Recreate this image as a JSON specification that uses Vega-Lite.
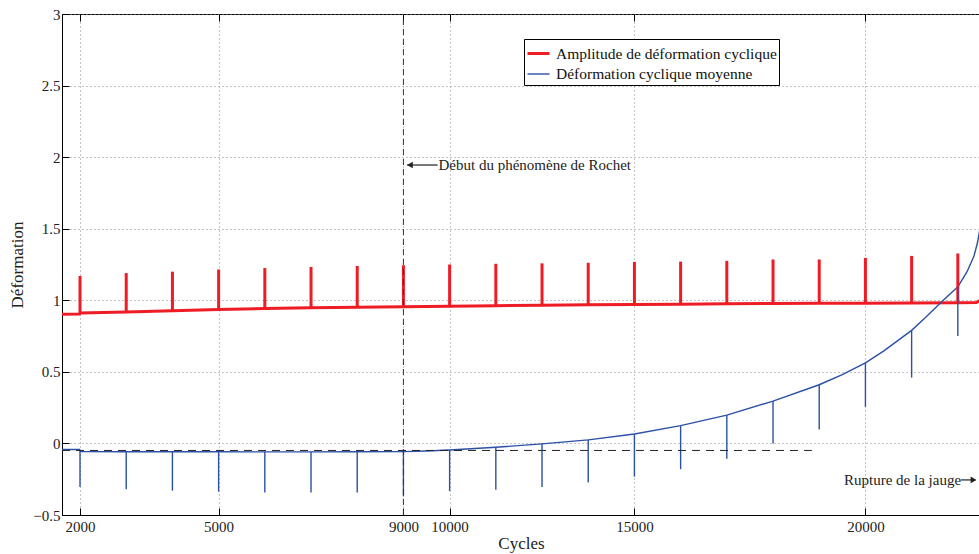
{
  "$schema": "https://vega.github.io/schema/vega-lite/v6.json",
  "width": 918,
  "height": 501,
  "autosize": {"type": "none"},
  "padding": {"left": 62, "top": 14, "right": 0, "bottom": 39},
  "background": "white",
  "config": {
    "view": {"stroke": "#000", "strokeWidth": 1},
    "font": "Liberation Serif",
    "axis": {
      "domainColor": "#000",
      "domainWidth": 1,
      "tickColor": "#000",
      "tickSize": -7,
      "labelFont": "Liberation Serif",
      "labelFontSize": 15,
      "labelColor": "#222",
      "titleFont": "Liberation Serif",
      "titleFontSize": 17,
      "titleFontWeight": "normal",
      "titleColor": "#222",
      "gridColor": "#8a8a8a",
      "gridDash": [1, 3],
      "gridOpacity": 1,
      "gridWidth": 1
    }
  },
  "resolve": {"scale": {"x": "shared"}, "axis": {"x": "independent"}},
  "datasets": {
    "curves": [
      {"series": "Amplitude de déformation cyclique", "cycle": 1610, "value": 0.903},
      {"series": "Amplitude de déformation cyclique", "cycle": 1990, "value": 0.904},
      {"series": "Amplitude de déformation cyclique", "cycle": 2010, "value": 0.912},
      {"series": "Amplitude de déformation cyclique", "cycle": 3000, "value": 0.919},
      {"series": "Amplitude de déformation cyclique", "cycle": 4000, "value": 0.927},
      {"series": "Amplitude de déformation cyclique", "cycle": 5000, "value": 0.936},
      {"series": "Amplitude de déformation cyclique", "cycle": 6000, "value": 0.942},
      {"series": "Amplitude de déformation cyclique", "cycle": 7000, "value": 0.948},
      {"series": "Amplitude de déformation cyclique", "cycle": 8000, "value": 0.952},
      {"series": "Amplitude de déformation cyclique", "cycle": 9000, "value": 0.955},
      {"series": "Amplitude de déformation cyclique", "cycle": 10000, "value": 0.958},
      {"series": "Amplitude de déformation cyclique", "cycle": 11000, "value": 0.962},
      {"series": "Amplitude de déformation cyclique", "cycle": 12000, "value": 0.965},
      {"series": "Amplitude de déformation cyclique", "cycle": 13000, "value": 0.968},
      {"series": "Amplitude de déformation cyclique", "cycle": 14000, "value": 0.970},
      {"series": "Amplitude de déformation cyclique", "cycle": 15000, "value": 0.972},
      {"series": "Amplitude de déformation cyclique", "cycle": 16000, "value": 0.975},
      {"series": "Amplitude de déformation cyclique", "cycle": 17000, "value": 0.978},
      {"series": "Amplitude de déformation cyclique", "cycle": 18000, "value": 0.979},
      {"series": "Amplitude de déformation cyclique", "cycle": 19000, "value": 0.980},
      {"series": "Amplitude de déformation cyclique", "cycle": 20000, "value": 0.981},
      {"series": "Amplitude de déformation cyclique", "cycle": 21000, "value": 0.982},
      {"series": "Amplitude de déformation cyclique", "cycle": 21400, "value": 0.984},
      {"series": "Amplitude de déformation cyclique", "cycle": 21480, "value": 1.0},
      {"series": "Déformation cyclique moyenne", "cycle": 1610, "value": -0.042},
      {"series": "Déformation cyclique moyenne", "cycle": 1990, "value": -0.042},
      {"series": "Déformation cyclique moyenne", "cycle": 2010, "value": -0.057},
      {"series": "Déformation cyclique moyenne", "cycle": 3000, "value": -0.058},
      {"series": "Déformation cyclique moyenne", "cycle": 4000, "value": -0.058},
      {"series": "Déformation cyclique moyenne", "cycle": 5000, "value": -0.058},
      {"series": "Déformation cyclique moyenne", "cycle": 6000, "value": -0.059},
      {"series": "Déformation cyclique moyenne", "cycle": 7000, "value": -0.059},
      {"series": "Déformation cyclique moyenne", "cycle": 8000, "value": -0.058},
      {"series": "Déformation cyclique moyenne", "cycle": 9000, "value": -0.057},
      {"series": "Déformation cyclique moyenne", "cycle": 9500, "value": -0.053},
      {"series": "Déformation cyclique moyenne", "cycle": 10000, "value": -0.046},
      {"series": "Déformation cyclique moyenne", "cycle": 11000, "value": -0.027},
      {"series": "Déformation cyclique moyenne", "cycle": 12000, "value": -0.003},
      {"series": "Déformation cyclique moyenne", "cycle": 13000, "value": 0.025},
      {"series": "Déformation cyclique moyenne", "cycle": 14000, "value": 0.066},
      {"series": "Déformation cyclique moyenne", "cycle": 15000, "value": 0.124},
      {"series": "Déformation cyclique moyenne", "cycle": 16000, "value": 0.198},
      {"series": "Déformation cyclique moyenne", "cycle": 17000, "value": 0.296},
      {"series": "Déformation cyclique moyenne", "cycle": 18000, "value": 0.41},
      {"series": "Déformation cyclique moyenne", "cycle": 18500, "value": 0.48},
      {"series": "Déformation cyclique moyenne", "cycle": 19000, "value": 0.563},
      {"series": "Déformation cyclique moyenne", "cycle": 19400, "value": 0.647},
      {"series": "Déformation cyclique moyenne", "cycle": 20000, "value": 0.79},
      {"series": "Déformation cyclique moyenne", "cycle": 20300, "value": 0.88},
      {"series": "Déformation cyclique moyenne", "cycle": 20650, "value": 0.99},
      {"series": "Déformation cyclique moyenne", "cycle": 21000, "value": 1.094},
      {"series": "Déformation cyclique moyenne", "cycle": 21200, "value": 1.2},
      {"series": "Déformation cyclique moyenne", "cycle": 21350, "value": 1.31},
      {"series": "Déformation cyclique moyenne", "cycle": 21424, "value": 1.40},
      {"series": "Déformation cyclique moyenne", "cycle": 21480, "value": 1.50}
    ],
    "spikes": [
      {"series": "Amplitude de déformation cyclique", "cycle": 2000, "lo": 0.905, "hi": 1.17},
      {"series": "Amplitude de déformation cyclique", "cycle": 3000, "lo": 0.919, "hi": 1.19},
      {"series": "Amplitude de déformation cyclique", "cycle": 4000, "lo": 0.927, "hi": 1.2},
      {"series": "Amplitude de déformation cyclique", "cycle": 5000, "lo": 0.936, "hi": 1.215},
      {"series": "Amplitude de déformation cyclique", "cycle": 6000, "lo": 0.942, "hi": 1.225},
      {"series": "Amplitude de déformation cyclique", "cycle": 7000, "lo": 0.948, "hi": 1.233},
      {"series": "Amplitude de déformation cyclique", "cycle": 8000, "lo": 0.952, "hi": 1.24},
      {"series": "Amplitude de déformation cyclique", "cycle": 9000, "lo": 0.955, "hi": 1.245},
      {"series": "Amplitude de déformation cyclique", "cycle": 10000, "lo": 0.958, "hi": 1.25},
      {"series": "Amplitude de déformation cyclique", "cycle": 11000, "lo": 0.962, "hi": 1.255},
      {"series": "Amplitude de déformation cyclique", "cycle": 12000, "lo": 0.965, "hi": 1.258},
      {"series": "Amplitude de déformation cyclique", "cycle": 13000, "lo": 0.968, "hi": 1.262},
      {"series": "Amplitude de déformation cyclique", "cycle": 14000, "lo": 0.97, "hi": 1.268},
      {"series": "Amplitude de déformation cyclique", "cycle": 15000, "lo": 0.972, "hi": 1.27},
      {"series": "Amplitude de déformation cyclique", "cycle": 16000, "lo": 0.975, "hi": 1.275},
      {"series": "Amplitude de déformation cyclique", "cycle": 17000, "lo": 0.978, "hi": 1.285},
      {"series": "Amplitude de déformation cyclique", "cycle": 18000, "lo": 0.979, "hi": 1.285},
      {"series": "Amplitude de déformation cyclique", "cycle": 19000, "lo": 0.98, "hi": 1.296},
      {"series": "Amplitude de déformation cyclique", "cycle": 20000, "lo": 0.981, "hi": 1.31},
      {"series": "Amplitude de déformation cyclique", "cycle": 21000, "lo": 0.982, "hi": 1.327},
      {"series": "Déformation cyclique moyenne", "cycle": 2000, "lo": -0.305, "hi": -0.05},
      {"series": "Déformation cyclique moyenne", "cycle": 3000, "lo": -0.32, "hi": -0.058},
      {"series": "Déformation cyclique moyenne", "cycle": 4000, "lo": -0.33, "hi": -0.058},
      {"series": "Déformation cyclique moyenne", "cycle": 5000, "lo": -0.336, "hi": -0.058},
      {"series": "Déformation cyclique moyenne", "cycle": 6000, "lo": -0.343, "hi": -0.059},
      {"series": "Déformation cyclique moyenne", "cycle": 7000, "lo": -0.343, "hi": -0.059},
      {"series": "Déformation cyclique moyenne", "cycle": 8000, "lo": -0.343, "hi": -0.058},
      {"series": "Déformation cyclique moyenne", "cycle": 9000, "lo": -0.37, "hi": -0.057},
      {"series": "Déformation cyclique moyenne", "cycle": 10000, "lo": -0.333, "hi": -0.046},
      {"series": "Déformation cyclique moyenne", "cycle": 11000, "lo": -0.324, "hi": -0.027},
      {"series": "Déformation cyclique moyenne", "cycle": 12000, "lo": -0.305, "hi": -0.003},
      {"series": "Déformation cyclique moyenne", "cycle": 13000, "lo": -0.273, "hi": 0.025},
      {"series": "Déformation cyclique moyenne", "cycle": 14000, "lo": -0.232, "hi": 0.066},
      {"series": "Déformation cyclique moyenne", "cycle": 15000, "lo": -0.18, "hi": 0.124},
      {"series": "Déformation cyclique moyenne", "cycle": 16000, "lo": -0.107, "hi": 0.198},
      {"series": "Déformation cyclique moyenne", "cycle": 17000, "lo": 0.0, "hi": 0.296},
      {"series": "Déformation cyclique moyenne", "cycle": 18000, "lo": 0.098, "hi": 0.41},
      {"series": "Déformation cyclique moyenne", "cycle": 19000, "lo": 0.256, "hi": 0.563},
      {"series": "Déformation cyclique moyenne", "cycle": 20000, "lo": 0.46, "hi": 0.79},
      {"series": "Déformation cyclique moyenne", "cycle": 21000, "lo": 0.75, "hi": 1.094}
    ]
  },
  "layer": [
    {
      "data": {"name": "curves"},
      "mark": {"type": "line", "clip": true},
      "encoding": {
        "x": {
          "field": "cycle", "type": "quantitative",
          "scale": {"domain": [1610, 21480], "nice": false, "zero": false},
          "axis": {
            "orient": "bottom",
            "values": [2000, 5000, 9000, 10000, 14000, 19000],
            "format": "d",
            "labelExpr": "datum.value == 14000 ? '15000' : datum.value == 19000 ? '20000' : datum.label",
            "labelPadding": 11,
            "title": "Cycles",
            "titlePadding": 1,
            "grid": true
          }
        },
        "y": {
          "field": "value", "type": "quantitative",
          "scale": {"domain": [-0.5, 3], "nice": false, "zero": false},
          "axis": {
            "values": [-0.5, 0, 0.5, 1, 1.5, 2, 2.5, 3],
            "format": "~g",
            "labelPadding": 9,
            "title": "Déformation",
            "titlePadding": 6,
            "grid": true
          }
        },
        "color": {
          "field": "series", "type": "nominal",
          "scale": {
            "domain": ["Amplitude de déformation cyclique", "Déformation cyclique moyenne"],
            "range": ["#ee1c25", "#2b50a6"]
          },
          "legend": {
            "title": null,
            "orient": "none",
            "legendX": 462,
            "legendY": 25,
            "direction": "vertical",
            "symbolType": "stroke",
            "symbolSize": 484,
            "symbolStrokeWidth": 2,
            "labelFont": "Liberation Serif",
            "labelFontSize": 15.5,
            "labelColor": "#111",
            "labelOffset": 5,
            "labelLimit": 400,
            "strokeColor": "#000",
            "fillColor": "white",
            "padding": 2,
            "rowPadding": 0
          }
        },
        "strokeWidth": {
          "field": "series", "type": "nominal",
          "scale": {
            "domain": ["Amplitude de déformation cyclique", "Déformation cyclique moyenne"],
            "range": [3, 1.4]
          },
          "legend": null
        }
      }
    },
    {
      "data": {"name": "spikes"},
      "mark": {"type": "rule"},
      "encoding": {
        "x": {"field": "cycle", "type": "quantitative", "axis": null},
        "y": {"field": "lo", "type": "quantitative"},
        "y2": {"field": "hi"},
        "color": {"field": "series", "type": "nominal"},
        "strokeWidth": {"field": "series", "type": "nominal", "legend": null}
      }
    },
    {
      "data": {"values": [{"cycle": 9000, "lo": -0.5, "hi": 3}]},
      "mark": {"type": "rule", "color": "#333", "strokeDash": [6, 4], "strokeWidth": 1},
      "encoding": {
        "x": {
          "field": "cycle", "type": "quantitative",
          "axis": {
            "orient": "top",
            "values": [2000, 5000, 9000, 10000, 14000, 19000],
            "labels": false,
            "domain": false,
            "grid": false,
            "title": null
          }
        },
        "y": {"field": "lo", "type": "quantitative"},
        "y2": {"field": "hi"}
      }
    },
    {
      "data": {"values": [{"start": 1610, "end": 17840, "level": -0.049}]},
      "mark": {"type": "rule", "color": "#222", "strokeDash": [8, 6], "strokeWidth": 1},
      "encoding": {
        "x": {"field": "start", "type": "quantitative", "axis": null},
        "x2": {"field": "end"},
        "y": {"field": "level", "type": "quantitative"}
      }
    },
    {
      "data": {"values": [
        {"start": 9080, "end": 9740, "level": 1.945},
        {"start": 21070, "end": 21380, "level": -0.255}
      ]},
      "mark": {"type": "rule", "color": "#222", "strokeWidth": 1.2},
      "encoding": {
        "x": {"field": "start", "type": "quantitative", "axis": null},
        "x2": {"field": "end"},
        "y": {"field": "level", "type": "quantitative"}
      }
    },
    {
      "data": {"values": [{"cycle": 9140, "level": 1.945}]},
      "mark": {"type": "point", "shape": "triangle-left", "filled": true, "color": "#222", "size": 45, "opacity": 1},
      "encoding": {
        "x": {"field": "cycle", "type": "quantitative", "axis": null},
        "y": {"field": "level", "type": "quantitative"}
      }
    },
    {
      "data": {"values": [{"cycle": 21340, "level": -0.255}]},
      "mark": {"type": "point", "shape": "triangle-right", "filled": true, "color": "#222", "size": 45, "opacity": 1},
      "encoding": {
        "x": {"field": "cycle", "type": "quantitative", "axis": null},
        "y": {"field": "level", "type": "quantitative"}
      }
    },
    {
      "data": {"values": [{"cycle": 9760, "level": 1.945, "label": "Début du phénomène de Rochet"}]},
      "mark": {"type": "text", "align": "left", "baseline": "middle", "font": "Liberation Serif", "fontSize": 15, "color": "#222"},
      "encoding": {
        "x": {"field": "cycle", "type": "quantitative", "axis": null},
        "y": {"field": "level", "type": "quantitative"},
        "text": {"field": "label"}
      }
    },
    {
      "data": {"values": [{"cycle": 21070, "level": -0.255, "label": "Rupture de la jauge"}]},
      "mark": {"type": "text", "align": "right", "baseline": "middle", "font": "Liberation Serif", "fontSize": 15, "color": "#222"},
      "encoding": {
        "x": {"field": "cycle", "type": "quantitative", "axis": null},
        "y": {"field": "level", "type": "quantitative"},
        "text": {"field": "label"}
      }
    }
  ]
}
